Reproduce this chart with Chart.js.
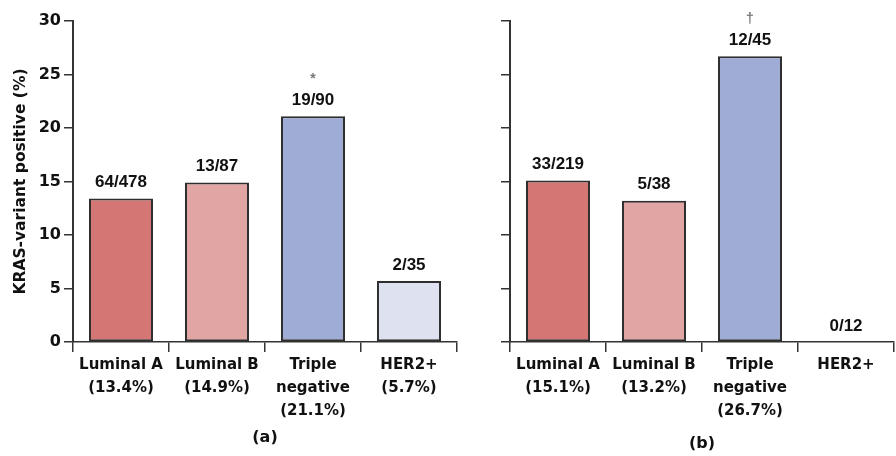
<!DOCTYPE html>
<html>
<head>
<meta charset="utf-8">
<script src="https://cdn.jsdelivr.net/npm/chart.js@4.4.1/dist/chart.umd.min.js"></script>
<style>
    html, body { margin: 0; padding: 0; background: #fff; }
    #wrap { position: relative; width: 896px; height: 456px; }
    #chartA { position: absolute; left: 0; top: 0; }
    #chartB { position: absolute; left: 458px; top: 0; }
</style>
</head>
<body>
<div id="wrap">
    <canvas id="chartA" width="458" height="456"></canvas>
    <canvas id="chartB" width="438" height="456"></canvas>
</div>
<script>
// Panel (a)
const categoriesA = [['Luminal A', '(13.4%)'], ['Luminal B', '(14.9%)'], ['Triple', 'negative', '(21.1%)'], ['HER2+', '(5.7%)']];
const valuesA = [13.4, 14.9, 21.1, 5.7];
const countsA = ['64/478', '13/87', '19/90', '2/35'];
const marksA = ['', '', '*', ''];

// Panel (b)
const categoriesB = [['Luminal A', '(15.1%)'], ['Luminal B', '(13.2%)'], ['Triple', 'negative', '(26.7%)'], ['HER2+']];
const valuesB = [15.1, 13.2, 26.7, 0];
const countsB = ['33/219', '5/38', '12/45', '0/12'];
const marksB = ['', '', '†', ''];

const yTicks = [0, 5, 10, 15, 20, 25, 30];
const barColors = ['#d37674', '#e1a6a3', '#9facd5', '#dde1f0'];

const FONT = '"DejaVu Sans", Arial, sans-serif';
const LABEL_FONT = '"Liberation Sans", Arial, sans-serif';
const AXIS = '#333';

// fraction labels above bars, plus significance markers
const countLabels = {
    id: 'countLabels',
    afterDatasetsDraw(chart, args, opts) {
        const ctx = chart.ctx;
        const meta = chart.getDatasetMeta(0);
        ctx.save();
        ctx.textAlign = 'center';
        ctx.textBaseline = 'middle';
        meta.data.forEach((bar, i) => {
            ctx.fillStyle = '#111';
            ctx.font = 'bold 17px ' + LABEL_FONT;
            ctx.fillText(opts.counts[i], bar.x, bar.y - 16);
            if (opts.marks[i]) {
                ctx.fillStyle = '#777';
                ctx.font = 'bold 14px ' + LABEL_FONT;
                ctx.fillText(opts.marks[i], bar.x, bar.y - 37);
            }
        });
        ctx.restore();
    }
};

function makeChart(canvasId, categories, values, counts, marks, panel, opts) {
    return new Chart(document.getElementById(canvasId), {
        type: 'bar',
        data: {
            labels: categories,
            datasets: [{
                data: values,
                backgroundColor: barColors,
                borderColor: '#2e2e2e',
                borderWidth: 2,
                borderSkipped: false,
                barPercentage: 0.667,
                categoryPercentage: 1
            }]
        },
        options: {
            responsive: false,
            animation: false,
            layout: { padding: { top: 21, right: opts.padRight, bottom: 0, left: 0 } },
            plugins: {
                legend: { display: false },
                tooltip: { enabled: false },
                countLabels: { counts: counts, marks: marks }
            },
            scales: {
                x: {
                    grid: {
                        display: true,
                        drawOnChartArea: false,
                        drawTicks: true,
                        tickLength: 10,
                        color: AXIS,
                        lineWidth: 1.5,
                        offset: true
                    },
                    border: { display: true, color: AXIS, width: 1.5 },
                    ticks: {
                        color: '#111',
                        padding: 2,
                        maxRotation: 0,
                        autoSkip: false,
                        font: { family: FONT, size: 15, weight: 'bold', lineHeight: '23px' }
                    },
                    title: {
                        display: true,
                        text: panel,
                        color: '#111',
                        font: { family: FONT, size: 16, weight: 'bold' },
                        padding: { top: 0, bottom: opts.titlePad }
                    },
                    afterFit: function(scale) { scale.height = 114; }
                },
                y: {
                    min: 0,
                    max: 30,
                    afterBuildTicks: function(scale) {
                        scale.ticks = yTicks.map(v => ({ value: v }));
                    },
                    grid: {
                        drawOnChartArea: false,
                        drawTicks: true,
                        tickLength: 9,
                        color: AXIS,
                        lineWidth: 1.5
                    },
                    border: { display: true, color: AXIS, width: 2 },
                    ticks: {
                        display: opts.showY,
                        color: '#111',
                        padding: 3,
                        font: { family: FONT, size: 16, weight: 'bold' }
                    },
                    title: {
                        display: opts.showY,
                        text: 'KRAS-variant positive (%)',
                        color: '#111',
                        font: { family: FONT, size: 15.5, weight: 'bold' },
                        padding: { top: 12, bottom: 0 }
                    },
                    afterFit: function(scale) { scale.width = opts.yWidth; }
                }
            }
        },
        plugins: [countLabels]
    });
}

makeChart('chartA', categoriesA, valuesA, countsA, marksA, '(a)',
    { padRight: 1, titlePad: 9, showY: true, yWidth: 73 });
makeChart('chartB', categoriesB, valuesB, countsB, marksB, '(b)',
    { padRight: 2, titlePad: 3, showY: false, yWidth: 52 });
</script>
</body>
</html>
